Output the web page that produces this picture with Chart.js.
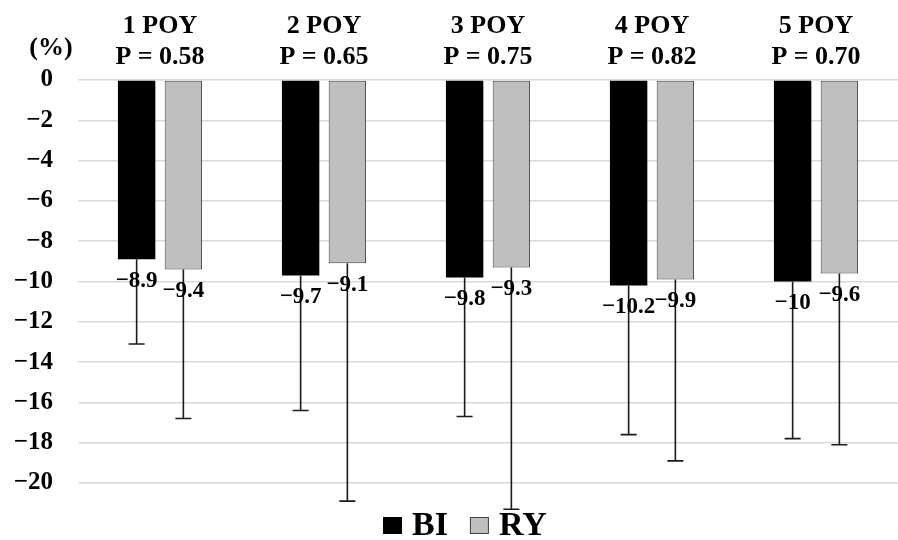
<!DOCTYPE html>
<html>
<head>
<meta charset="utf-8">
<script src="https://cdn.jsdelivr.net/npm/chart.js@4/dist/chart.umd.min.js"></script>
<style>
  body { margin: 0; background: #fff; }
  #wrap { width: 898px; height: 540px; }
</style>
</head>
<body>
<div id="wrap"><canvas id="chart" width="898" height="540"></canvas></div>
<script>
// data
var categories = ['1 POY', '2 POY', '3 POY', '4 POY', '5 POY'];
var pLabels = ['P = 0.58', 'P = 0.65', 'P = 0.75', 'P = 0.82', 'P = 0.70'];
var seriesNames = ['BI', 'RY'];
var biValues = [-8.9, -9.7, -9.8, -10.2, -10];
var ryValues = [-9.4, -9.1, -9.3, -9.9, -9.6];
// error bars (downward only)
var biErr = [4.2, 6.7, 6.9, 7.4, 7.8];
var ryErr = [7.4, 11.8, 12.0, 9.0, 8.5];
var yMin = -20, yMax = 0, yStep = 2;

var serif = '"Liberation Serif", "Times New Roman", serif';
var errors = [biErr, ryErr];

function fmt(v){
    return String(v).replace('-', '\u2212');
}

//x labels: two lines, name and p value
var xLabels = [];
for(var i = 0; i < categories.length; i++){
    xLabels.push([categories[i], pLabels[i]]);
}

var extras = {
    id: 'extras',
    afterDatasetsDraw: function(chart){
        var ctx = chart.ctx;
        var y = chart.scales.y;
        ctx.save();
        //error bars
        ctx.strokeStyle = '#1a1a1a';
        ctx.lineWidth = 1.6;
        chart.data.datasets.forEach(function(ds, di){
            var meta = chart.getDatasetMeta(di);
            meta.data.forEach(function(bar, i){
                var yEnd = y.getPixelForValue(ds.data[i] - errors[di][i]);
                ctx.beginPath();
                ctx.moveTo(bar.x, bar.y);
                ctx.lineTo(bar.x, yEnd);
                ctx.moveTo(bar.x - 8, yEnd);
                ctx.lineTo(bar.x + 8, yEnd);
                ctx.stroke();
            });
        });
        //value labels under the bars
        ctx.fillStyle = '#000';
        ctx.font = 'bold 23px ' + serif;
        ctx.textAlign = 'center';
        ctx.textBaseline = 'top';
        chart.data.datasets.forEach(function(ds, di){
            var meta = chart.getDatasetMeta(di);
            meta.data.forEach(function(bar, i){
                ctx.fillText(fmt(ds.data[i]), bar.x, bar.y + 10);
            });
        });
        //unit
        ctx.font = 'bold 26px ' + serif;
        ctx.textBaseline = 'middle';
        ctx.fillText('(%)', 51, 48);

        //legend
        ctx.font = 'bold 34px ' + serif;
        ctx.textAlign = 'left';
        ctx.textBaseline = 'alphabetic';
        var lx = 383;
        chart.data.datasets.forEach(function(ds){
            ctx.fillStyle = ds.backgroundColor;
            ctx.fillRect(lx, 517, 19, 17);
            if(ds.borderWidth){
                ctx.strokeStyle = ds.borderColor;
                ctx.lineWidth = 1;
                ctx.strokeRect(lx + 0.5, 517.5, 18, 16);
            }
            ctx.fillStyle = '#000';
            ctx.fillText(ds.label, lx + 29, 535);
            lx += 29 + ctx.measureText(ds.label).width + 22;
        });
        ctx.restore();
    }
};

new Chart(document.getElementById('chart'), {
    type: 'bar',
    data: {
        labels: xLabels,
        datasets: [{
            label: seriesNames[0],
            data: biValues,
            backgroundColor: '#000000',
            borderColor: '#000000',
            borderWidth: 0,
            categoryPercentage: 0.57,
            barPercentage: 0.8
        }, {
            label: seriesNames[1],
            data: ryValues,
            backgroundColor: '#bfbfbf',
            borderColor: '#404040',
            borderWidth: 1,
            borderSkipped: false,
            categoryPercentage: 0.57,
            barPercentage: 0.8
        }]
    },
    options: {
        responsive: false,
        animation: false,
        layout: { padding: { top: 0, left: 0, right: 0, bottom: 57 } },
        scales: {
            x: {
                position: 'top',
                grid: { display: false, drawTicks: false },
                border: { display: false },
                ticks: {
                    color: '#000',
                    padding: 7,
                    maxRotation: 0,
                    font: { family: serif, size: 26, weight: 'bold', lineHeight: 1.2 }
                },
                afterFit: function(scale){ scale.height = 80; }
            },
            y: {
                min: yMin,
                max: yMax,
                grid: { color: '#d9d9d9', lineWidth: 1.5, drawTicks: false },
                border: { display: false },
                ticks: {
                    stepSize: yStep,
                    color: '#000',
                    padding: 25,
                    font: { family: serif, size: 25, weight: 'bold' },
                    callback: function(v){ return fmt(v); }
                },
                afterFit: function(scale){ scale.width = 78; }
            }
        },
        plugins: {
            legend: { display: false },
            tooltip: { enabled: false }
        }
    },
    plugins: [extras]
});
</script>
</body>
</html>
